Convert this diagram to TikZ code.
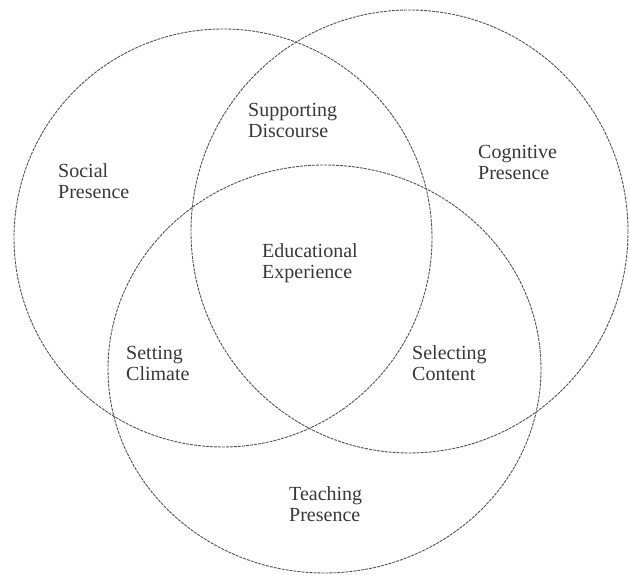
\documentclass[tikz,border=0pt]{standalone}
\usepackage{fontspec}
\setmainfont{Liberation Serif}
\begin{document}
\begin{tikzpicture}[x=1pt,y=1pt,
  ring/.style={draw=black!68, line width=0.9pt, dash pattern=on 3pt off 1pt},
  lbl/.style={align=left, anchor=west, inner sep=0pt, text=black!78,
              font=\fontsize{20}{21}\selectfont}]
  % canvas
  \useasboundingbox (0,0) rectangle (629,575);

  % the three presences
  \draw[ring] (223,337) circle [x radius=209, y radius=209];
  \draw[ring] (409.5,343.5) circle [x radius=218.5, y radius=221.5];
  \draw[ring] (324.5,206) circle [x radius=216.5, y radius=204];

  % region labels
  \node[lbl] (social)    at (58,394.3)  {Social\\Presence};
  \node[lbl] (support)   at (248,454.8) {Supporting\\Discourse};
  \node[lbl] (cognitive) at (478,412.3) {Cognitive\\Presence};
  \node[lbl] (edu)       at (262,312.2) {Educational\\Experience};
  \node[lbl] (climate)   at (126,211.3) {Setting\\Climate};
  \node[lbl] (content)   at (412,212)   {Selecting\\Content};
  \node[lbl] (teaching)  at (289,71)    {Teaching\\Presence};
\end{tikzpicture}
\end{document}
